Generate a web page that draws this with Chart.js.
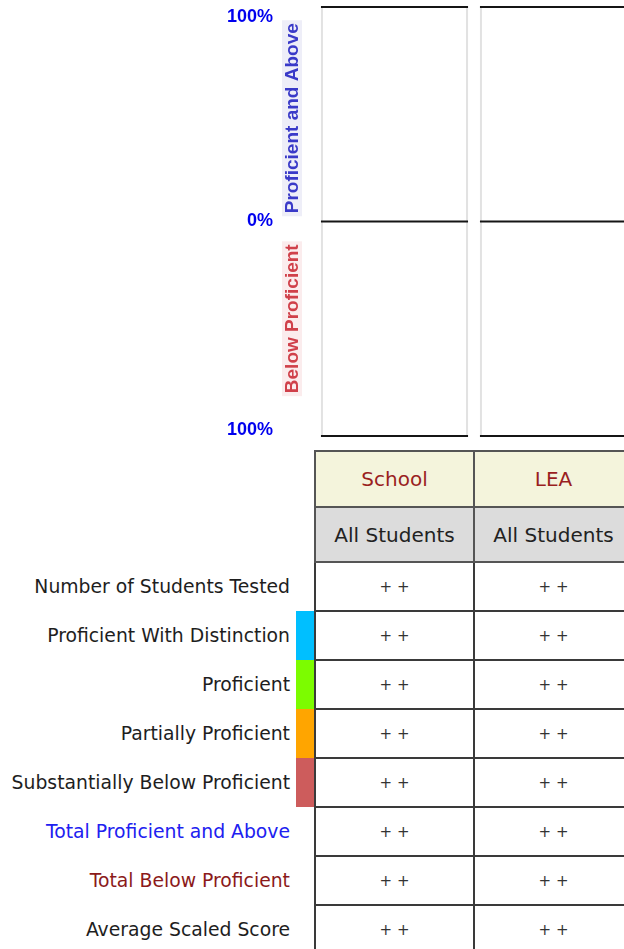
<!DOCTYPE html>
<html>
<head>
<meta charset="UTF-8">
<title>Proficiency chart</title>
<script src="https://cdn.jsdelivr.net/npm/chart.js@4/dist/chart.umd.min.js"></script>
<style>
  html, body { margin: 0; padding: 0; background: #fff; }
  body { width: 624px; height: 949px; overflow: hidden; position: relative; }
  #wrap { position: absolute; left: 0; top: 0; width: 640px; height: 960px; }
  #chart { position: absolute; left: 0; top: 0; }
  #scoreTable {
    position: absolute; left: 0; top: 450px;
    border-collapse: collapse; table-layout: fixed;
    font-family: "DejaVu Sans", Verdana, sans-serif;
  }
  #scoreTable td { padding: 0; }
  #scoreTable td.label {
    text-align: right; padding-right: 6px; font-size: 18.8px; color: #1e1e1e;
    white-space: nowrap;
  }
  #scoreTable td.swatch { padding: 0; }
  #scoreTable td.cell {
    border: 2px solid #3a3a3a; text-align: center; font-size: 15px; color: #333;
  }
  #scoreTable tr.head td.cell { font-size: 20px; border-color: #555; }
  #scoreTable tr.org td.cell { background: #f4f4dc; color: #9a1f1f; height: 54px; }
  #scoreTable tr.grp td.cell { background: #dcdcdc; color: #222; height: 53px; }
  #scoreTable tr.data td { height: 47px; }
</style>
</head>
<body>
<div id="wrap">
  <canvas id="chart" width="640" height="449"></canvas>
  <table id="scoreTable">
    <colgroup>
      <col style="width:296px">
      <col style="width:19px">
      <col style="width:159px">
      <col style="width:159px">
    </colgroup>
    <tbody></tbody>
  </table>
</div>
<script>
const categories = ["School", "LEA"];
const groupLabels = ["All Students", "All Students"];

// all values are suppressed in the report ("++")
const studentsTested = [null, null];
const withDistinction = [null, null];
const proficient = [null, null];
const partiallyProficient = [null, null];
const substantiallyBelow = [null, null];
const totalProficientAbove = [null, null];
const totalBelow = [null, null];
const avgScaledScore = [null, null];

const tickValues = [100, 0, -100];
const tickLabels = ["100%", "0%", "100%"];

const levelColors = {
  distinction: "#00bfff",
  proficient: "#7cfc00",
  partial: "#ffa500",
  substantial: "#cd5c5c",
};

const suppressed = "+ +";
const barPct = 0.925;

function negate(arr) {
  return arr.map((v) => (v === null ? null : -v));
}

const panelPlugin = {
  id: "panels",
  beforeDatasetsDraw(chart) {
    const { ctx } = chart;
    const x = chart.scales.x;
    const y = chart.scales.y;
    const band = x.getPixelForValue(1) - x.getPixelForValue(0);
    const w = band * barPct;
    const top = y.getPixelForValue(100);
    const mid = y.getPixelForValue(0);
    const bot = y.getPixelForValue(-100);
    ctx.save();
    categories.forEach((c, i) => {
      const cx = x.getPixelForValue(i);
      const l = cx - w / 2;
      const r = cx + w / 2;
      ctx.strokeStyle = "#e2e2e2";
      ctx.lineWidth = 2;
      ctx.beginPath();
      ctx.moveTo(l + 1, top);
      ctx.lineTo(l + 1, bot);
      ctx.moveTo(r - 1, top);
      ctx.lineTo(r - 1, bot);
      ctx.stroke();
      ctx.strokeStyle = "#151515";
      ctx.lineWidth = 2;
      ctx.beginPath();
      [top, mid, bot].forEach((py) => {
        ctx.moveTo(l, py);
        ctx.lineTo(r, py);
      });
      ctx.stroke();
    });
    ctx.restore();
  },
  afterDraw(chart) {
    const { ctx } = chart;
    const y = chart.scales.y;
    const nudge = [10, 0, -6];
    ctx.save();
    ctx.font = 'bold 18px "Liberation Sans", Arial, sans-serif';
    ctx.fillStyle = "#0000ee";
    ctx.textAlign = "right";
    ctx.textBaseline = "middle";
    tickValues.forEach((v, i) => {
      ctx.fillText(tickLabels[i], 273, y.getPixelForValue(v) + nudge[i]);
    });

    ctx.font = 'bold 19px "Liberation Sans", Arial, sans-serif';
    const titles = [
      { text: "Proficient and Above", y: y.getPixelForValue(50) + 4, color: "#3a3ac8", bg: "#eeeef8" },
      { text: "Below Proficient", y: y.getPixelForValue(-50) - 10, color: "#d0404a", bg: "#fbeced" },
    ];
    titles.forEach((t) => {
      ctx.save();
      ctx.translate(292, t.y);
      ctx.rotate(-Math.PI / 2);
      const tw = ctx.measureText(t.text).width;
      ctx.fillStyle = t.bg;
      ctx.fillRect(-tw / 2 - 3, -10, tw + 6, 20);
      ctx.fillStyle = t.color;
      ctx.textAlign = "center";
      ctx.textBaseline = "middle";
      ctx.fillText(t.text, 0, 1);
      ctx.restore();
    });
    ctx.restore();
  },
};

new Chart(document.getElementById("chart"), {
  type: "bar",
  data: {
    labels: categories,
    datasets: [
      { label: "Proficient With Distinction", data: withDistinction, backgroundColor: levelColors.distinction },
      { label: "Proficient", data: proficient, backgroundColor: levelColors.proficient },
      { label: "Partially Proficient", data: negate(partiallyProficient), backgroundColor: levelColors.partial },
      { label: "Substantially Below Proficient", data: negate(substantiallyBelow), backgroundColor: levelColors.substantial },
    ],
  },
  options: {
    responsive: false,
    animation: false,
    layout: { padding: { left: 315, right: 7, top: 7, bottom: 13 } },
    datasets: { bar: { barPercentage: barPct, categoryPercentage: 1 } },
    scales: {
      x: { stacked: true, display: false },
      y: { stacked: true, min: -100, max: 100, display: false },
    },
    plugins: { legend: { display: false }, tooltip: { enabled: false } },
  },
  plugins: [panelPlugin],
});

// table below the chart
const rows = [
  { label: "Number of Students Tested", values: studentsTested },
  { label: "Proficient With Distinction", values: withDistinction, swatch: levelColors.distinction },
  { label: "Proficient", values: proficient, swatch: levelColors.proficient },
  { label: "Partially Proficient", values: partiallyProficient, swatch: levelColors.partial },
  { label: "Substantially Below Proficient", values: substantiallyBelow, swatch: levelColors.substantial },
  { label: "Total Proficient and Above", values: totalProficientAbove, color: "#2020f0" },
  { label: "Total Below Proficient", values: totalBelow, color: "#8b1a1a" },
  { label: "Average Scaled Score", values: avgScaledScore },
];

const tbody = document.querySelector("#scoreTable tbody");
let html = `<tr class="head org"><td></td><td></td>${categories.map((c) => `<td class="cell">${c}</td>`).join("")}</tr>`;
html += `<tr class="head grp"><td></td><td></td>${groupLabels.map((g) => `<td class="cell">${g}</td>`).join("")}</tr>`;
rows.forEach((row) => {
  const style = row.color ? ` style="color:${row.color}"` : "";
  const sw = row.swatch ? ` style="background:${row.swatch}"` : "";
  html += `<tr class="data"><td class="label"${style}>${row.label}</td><td class="swatch"${sw}></td>` +
    row.values.map((v) => `<td class="cell">${v === null ? suppressed : v}</td>`).join("") + "</tr>";
});
tbody.innerHTML = html;
</script>
</body>
</html>
